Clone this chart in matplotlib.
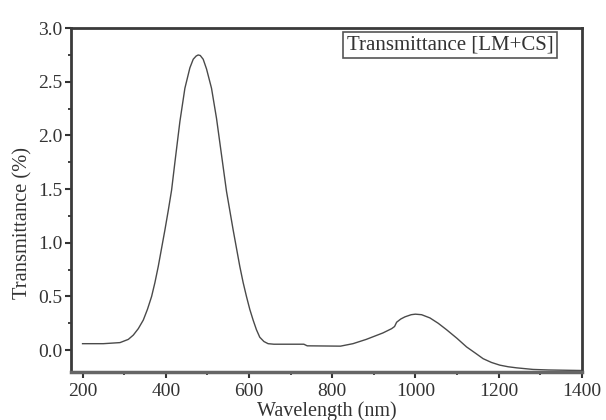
import matplotlib
matplotlib.use("Agg")
import matplotlib.pyplot as plt
from matplotlib.ticker import MultipleLocator

wavelength = [200, 250, 290, 310, 322, 334, 346, 356, 366, 374, 382, 390, 398, 406,
              414, 422, 434, 446, 458, 466, 473, 478, 483, 490, 498, 510, 522, 534, 546, 554,
              562, 570, 578, 586, 594, 602, 610, 618, 626, 636, 646, 660, 700, 732,
              740, 820, 850, 882, 922, 943, 950, 955, 965, 975, 990, 1000, 1015, 1035,
              1055, 1075, 1100, 1123, 1145, 1163, 1183, 1203, 1223, 1243, 1283, 1320, 1400]
transmittance = [0.06, 0.06, 0.07, 0.10, 0.14, 0.20, 0.28, 0.38, 0.50, 0.63, 0.78, 0.95,
                 1.12, 1.30, 1.49, 1.75, 2.13, 2.44, 2.63, 2.71, 2.74, 2.75, 2.745, 2.71,
                 2.62, 2.44, 2.16, 1.82, 1.48, 1.30, 1.12, 0.95, 0.78, 0.63, 0.50, 0.38,
                 0.28, 0.19, 0.12, 0.08, 0.06, 0.055, 0.055, 0.055, 0.04, 0.037, 0.06,
                 0.10, 0.16, 0.20, 0.22, 0.26, 0.29, 0.31, 0.33, 0.335, 0.33, 0.30, 0.25,
                 0.19, 0.11, 0.03, -0.03, -0.08, -0.115, -0.14, -0.155, -0.165, -0.18,
                 -0.185, -0.19]

legend_label = "Transmittance [LM+CS]"
x_label = "Wavelength (nm)"
y_label = "Transmittance (%)"

plt.rcParams['font.family'] = ['Liberation Serif', 'DejaVu Serif']

fig = plt.figure(figsize=(6.06, 4.20), dpi=100)
ax = fig.add_axes([0.117, 0.114, 0.843, 0.819])

ax.plot(wavelength, transmittance, color='#4a4a4a', lw=1.0)

ax.set_xlim(172, 1400)
ax.set_ylim(-0.205, 3.0)
ax.xaxis.set_major_locator(MultipleLocator(200))
ax.xaxis.set_minor_locator(MultipleLocator(100))
ax.yaxis.set_major_locator(MultipleLocator(0.5))
ax.yaxis.set_minor_locator(MultipleLocator(0.25))
ax.yaxis.set_major_formatter(matplotlib.ticker.FormatStrFormatter('%.1f'))

for s in ax.spines.values():
    s.set_linewidth(2.0)
    s.set_color('#3a3a3a')
ax.spines['bottom'].set_color('#666666')
ax.spines['bottom'].set_linewidth(2.5)

ax.tick_params(axis='both', which='major', direction='out', length=4, width=1.5,
               color='#333333', labelsize=14, labelcolor='#333333')
ax.tick_params(axis='both', which='minor', direction='out', length=2.5, width=1.3,
               color='#333333')
ax.tick_params(axis='x', which='major', pad=4)
ax.tick_params(axis='y', which='major', pad=2)

ax.set_xlabel(x_label, fontsize=14.5, color='#333333', labelpad=1)
ax.set_ylabel(y_label, fontsize=14.8, color='#333333')
ax.yaxis.set_label_coords(-0.076, 0.433)

ax.text(0.742, 0.951, legend_label, transform=ax.transAxes, ha='center', va='center',
        fontsize=15, color='#333333',
        bbox=dict(boxstyle='square,pad=0.18', fc='white', ec='#555555', lw=1.2))

fig.savefig('out.png', dpi=100)
